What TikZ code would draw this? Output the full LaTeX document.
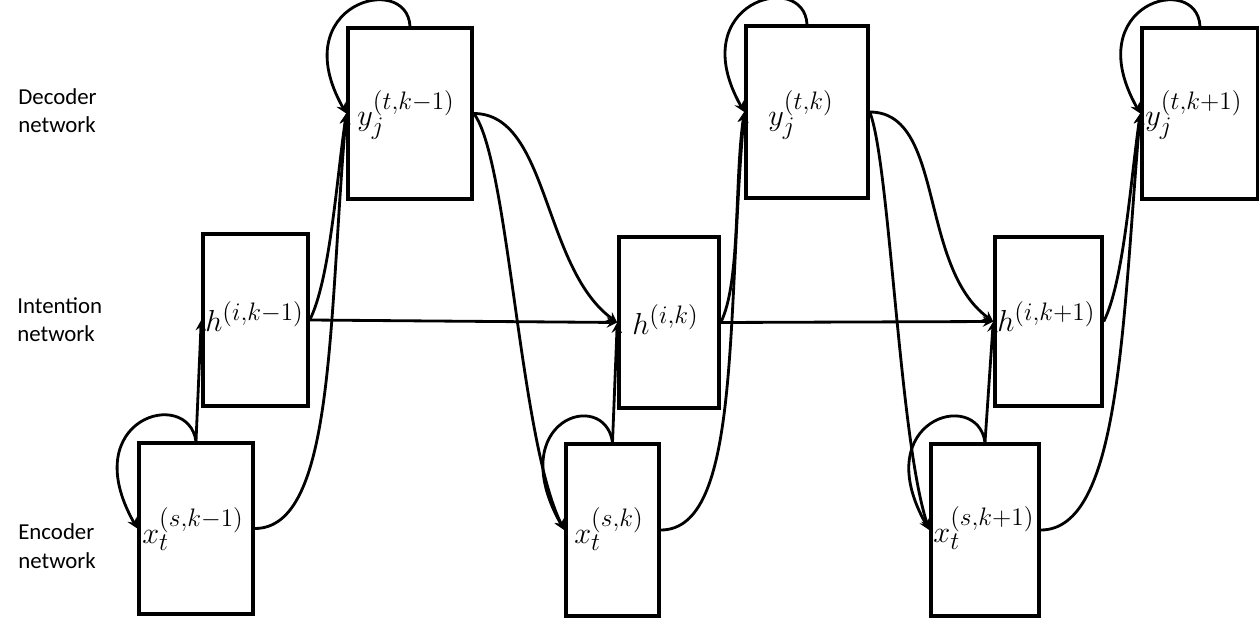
\documentclass[tikz,border=0pt]{standalone}
\usepackage{fontspec}
\newfontfamily\netfont{Carlito}
\usepackage{tikz}
\usetikzlibrary{arrows}

\begin{document}
\begin{tikzpicture}[x=0.02cm,y=-0.02cm,
        box/.style={draw,line width=2pt,inner sep=0pt},
        lbl/.style={anchor=base west,inner sep=0pt,font=\fontsize{19}{22}\selectfont},
        netname/.style={anchor=base west,inner sep=0pt,align=left,
                        font=\netfont\fontsize{13}{16}\selectfont},
        arrow/.style={->,>=stealth,line width=1.6pt}
    ]
        \useasboundingbox (0,0) rectangle (1259,618);

        % Row names
        \node[netname] (dec) at (18,133) {Decoder\\network};
        \node[netname] (int) at (17,342) {Intention\\network};
        \node[netname] (enc) at (18,568) {Encoder\\network};

        % Boxes
        \node[box,minimum width=2.28cm,minimum height=3.42cm] (x1) at (196,528.5) {};
        \node[box,minimum width=2.10cm,minimum height=3.44cm] (h1) at (255.5,320) {};
        \node[box,minimum width=2.48cm,minimum height=3.42cm] (y1) at (410,113.5) {};
        \node[box,minimum width=1.86cm,minimum height=3.44cm] (x2) at (612.5,530) {};
        \node[box,minimum width=2.00cm,minimum height=3.42cm] (h2) at (669,322.5) {};
        \node[box,minimum width=2.44cm,minimum height=3.44cm] (y2) at (807,112) {};
        \node[box,minimum width=2.16cm,minimum height=3.44cm] (x3) at (985,530) {};
        \node[box,minimum width=2.14cm,minimum height=3.38cm] (h3) at (1048.5,321.5) {};
        \node[box,minimum width=2.32cm,minimum height=3.42cm] (y3) at (1200,113.5) {};

        % Labels
        \node[lbl] (lx1) at (142,543) {$x_t^{(s,k-1)}$};
        \node[lbl] (lh1) at (205,332) {$h^{(i,k-1)}$};
        \node[lbl] (ly1) at (357,126) {$y_j^{(t,k-1)}$};
        \node[lbl] (lx2) at (574,543) {$x_t^{(s,k)}$};
        \node[lbl] (lh2) at (632,335) {$h^{(i,k)}$};
        \node[lbl] (ly2) at (768,126) {$y_j^{(t,k)}$};
        \node[lbl] (lx3) at (933,542) {$x_t^{(s,k+1)}$};
        \node[lbl] (lh3) at (997,332) {$h^{(i,k+1)}$};
        \node[lbl] (ly3) at (1145,126) {$y_j^{(t,k+1)}$};

        % Self loops
        \draw[arrow] (x1.north) .. controls +(-8,-55) and +(-62,-110) .. (x1.west);
        \draw[arrow] (x2.north) .. controls +(-8,-55) and +(-62,-110) .. (x2.west);
        \draw[arrow] (x3.north) .. controls +(-8,-55) and +(-62,-110) .. (x3.west);
        \draw[arrow] (y1.north) .. controls +(-3,-55) and +(-62,-110) .. (y1.west);
        \draw[arrow] (y2.north) .. controls +(-3,-55) and +(-62,-110) .. (y2.west);
        \draw[arrow] (y3.north) .. controls +(-3,-55) and +(-62,-110) .. (y3.west);

        % Encoder to intention
        \draw[arrow] (x1.north) -- (h1.west);
        \draw[arrow] (x2.north) -- (h2.west);
        \draw[arrow] (x3.north) -- (h3.west);

        % Encoder to decoder
        \draw[arrow] (x1.east) .. controls +(80,0) and +(-18,210) .. (y1.west);
        \draw[arrow] (x2.east) .. controls +(80,0) and +(-18,210) .. (y2.west);
        \draw[arrow] (x3.east) .. controls +(80,0) and +(-18,210) .. (y3.west);

        % Intention to decoder
        \draw[arrow] (h1.east) .. controls +(20,-40) and +(-10,70) .. (y1.west);
        \draw[arrow] (h2.east) .. controls +(20,-40) and +(-10,70) .. (y2.west);
        \draw[arrow] (h3.east) .. controls +(20,-40) and +(-10,70) .. (y3.west);

        % Intention chain
        \draw[arrow] (h1.east) -- (h2.west);
        \draw[arrow] (h2.east) -- (h3.west);

        % Decoder to next step
        \draw[arrow] (y1.east) .. controls +(75,0) and +(-75,-55) .. (h2.west);
        \draw[arrow] (y1.east) .. controls +(35,45) and +(-45,-90) .. (x2.west);
        \draw[arrow] (y2.east) .. controls +(75,0) and +(-75,-55) .. (h3.west);
        \draw[arrow] (y2.east) .. controls +(20,50) and +(-30,-90) .. (x3.west);
    \end{tikzpicture}
\end{document}
